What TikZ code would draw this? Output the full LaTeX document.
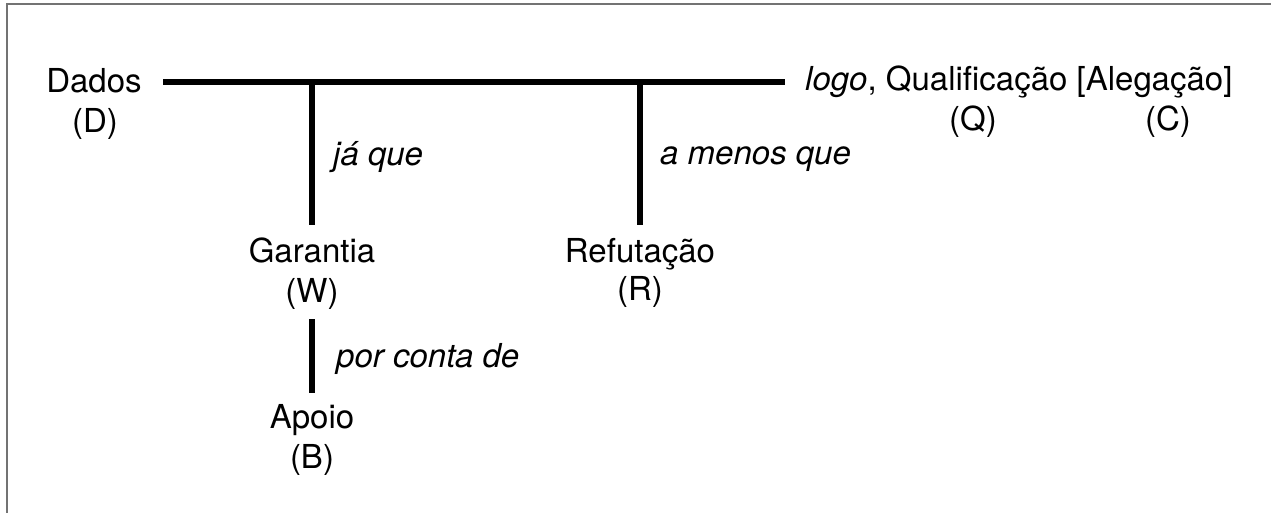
\documentclass[tikz,border=0pt]{standalone}
\usepackage{fontspec}
\setmainfont{TeX Gyre Heros}
\begin{document}
\begin{tikzpicture}[x=1pt,y=-1pt,
  lbl/.style={font=\fontsize{33}{39}\selectfont, inner sep=0pt, anchor=base},
  itlbl/.style={font=\fontsize{33}{39}\selectfont\itshape, inner sep=0pt, anchor=base west},
  bar/.style={line width=6pt},
  frame/.style={draw=black!55, line width=2pt}]
\useasboundingbox (0,0) rectangle (1271,513);
\draw[frame] (7,513) -- (7,4.5) -- (1271,4.5);
% labels
\node[lbl] (dados) at (94,93) {Dados};
\node[lbl] (dadosD) at (95,133) {(D)};
\node[lbl, anchor=base west] (claim) at (805,91) {\textit{logo}, Qualificação [Alegação]};
\node[lbl] (qual) at (973,131) {(Q)};
\node[lbl] (alg) at (1168,131) {(C)};
\node[lbl] (war) at (312,262) {Garantia};
\node[lbl] (warW) at (312,302) {(W)};
\node[lbl] (reb) at (640,262) {Refutação};
\node[lbl] (rebR) at (640,300) {(R)};
\node[lbl] (back) at (312,428) {Apoio};
\node[lbl] (backB) at (312,468) {(B)};
\node[itlbl] (since) at (333,166) {já que};
\node[itlbl] (unless) at (660,165) {a menos que};
\node[itlbl] (onacc) at (336,367) {por conta de};
% junctions
\coordinate (mainL) at (163,82);
\coordinate (mainR) at (785,82);
\coordinate (jW) at (312,82);
\coordinate (jR) at (640,82);
\coordinate (wTop) at (312,225);
\coordinate (rTop) at (640,225);
\coordinate (bTop) at (312,319);
\coordinate (bBot) at (312,393);
\draw[bar] (mainL) -- (mainR);
\draw[bar] (jW) -- (wTop);
\draw[bar] (jR) -- (rTop);
\draw[bar] (bTop) -- (bBot);
\end{tikzpicture}
\end{document}
